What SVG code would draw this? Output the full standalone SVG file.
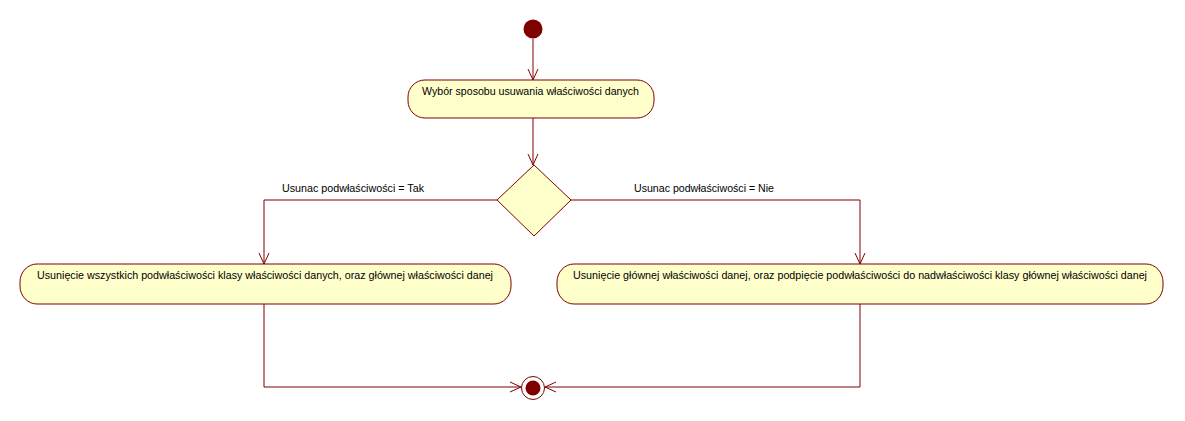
<svg xmlns="http://www.w3.org/2000/svg" width="1185" height="421" viewBox="0 0 1185 421">
<style>
.act{fill:#FFFFCC;stroke:#800000;stroke-width:1}
.lbl{font-family:"Liberation Sans",Arial,sans-serif;font-size:11px;fill:#000}
.edge{fill:none;stroke:#800000;stroke-width:1}
</style>
<defs>
<marker id="arr" viewBox="0 0 12 12" refX="11" refY="6" markerWidth="12" markerHeight="12" markerUnits="userSpaceOnUse" orient="auto">
<path d="M0,1 L11,6 L0,11" fill="none" stroke="#800000" stroke-width="1"/>
</marker>
</defs>
<rect width="1185" height="421" fill="#fff"/>
<g id="connectors">
<path class="edge" d="M533,39 V80" marker-end="url(#arr)"/>
<path class="edge" d="M533,118 V165" marker-end="url(#arr)"/>
<path class="edge" d="M497,200 H264 V264" marker-end="url(#arr)"/>
<path class="edge" d="M571,200 H860 V264" marker-end="url(#arr)"/>
<path class="edge" d="M264,304 V387 H521" marker-end="url(#arr)"/>
<path class="edge" d="M860,304 V387 H545" marker-end="url(#arr)"/>
<text class="lbl" x="282" y="192" textLength="142" lengthAdjust="spacingAndGlyphs">Usunac podwłaściwości = Tak</text>
<text class="lbl" x="634" y="192" textLength="140" lengthAdjust="spacingAndGlyphs">Usunac podwłaściwości = Nie</text>
</g>
<g id="start">
<circle cx="533" cy="29" r="9.5" fill="#800000"/>
</g>
<g id="wybor">
<rect class="act" x="408" y="80" width="246" height="38" rx="17" ry="17"/>
<text class="lbl" x="422" y="95" textLength="217" lengthAdjust="spacingAndGlyphs">Wybór sposobu usuwania właściwości danych</text>
</g>
<g id="decision">
<polygon class="act" points="534,165 571,200 534,236 497,200"/>
</g>
<g id="usuniecie-wszystkich">
<rect class="act" x="20" y="264" width="491" height="40" rx="17" ry="18"/>
<text class="lbl" x="37" y="279" textLength="456" lengthAdjust="spacingAndGlyphs">Usunięcie wszystkich podwłaściwości klasy właściwości danych, oraz głównej właściwości danej</text>
</g>
<g id="usuniecie-glownej">
<rect class="act" x="557" y="264" width="606" height="40" rx="17" ry="18"/>
<text class="lbl" x="573" y="279" textLength="574" lengthAdjust="spacingAndGlyphs">Usunięcie głównej właściwości danej, oraz podpięcie podwłaściwości do nadwłaściwości klasy głównej właściwości danej</text>
</g>
<g id="end">
<circle cx="533" cy="388" r="11.5" fill="#fff" stroke="#800000" stroke-width="1"/>
<circle cx="533" cy="388" r="7.5" fill="#800000"/>
</g>
</svg>
